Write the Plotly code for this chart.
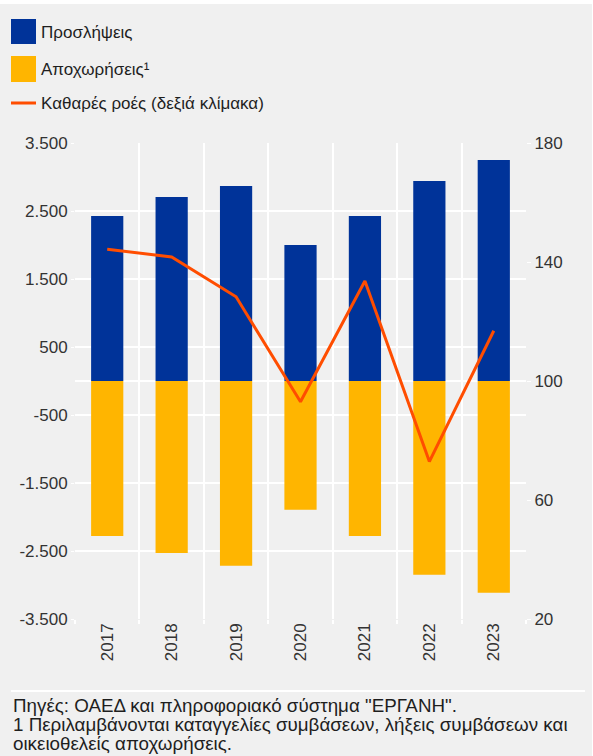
import plotly.graph_objects as go

years = ["2017", "2018", "2019", "2020", "2021", "2022", "2023"]
hires = [2426, 2706, 2868, 2000, 2426, 2941, 3250]
separations = [-2280, -2529, -2716, -1892, -2280, -2848, -3113]
net_flows = [144.3, 141.7, 128.3, 93.0, 133.6, 72.9, 116.9]

left_ticks = [-3500, -2500, -1500, -500, 500, 1500, 2500, 3500]
left_ticktext = ["-3.500", "-2.500", "-1.500", "-500", "500", "1.500", "2.500", "3.500"]
right_ticks = [20, 60, 100, 140, 180]

legend_labels = ["Προσλήψεις", "Αποχωρήσεις¹", "Καθαρές ροές (δεξιά κλίμακα)"]
footnotes = [
    "Πηγές: ΟΑΕΔ και πληροφοριακό σύστημα \"ΕΡΓΑΝΗ\".",
    "1 Περιλαμβάνονται καταγγελίες συμβάσεων, λήξεις συμβάσεων και",
    "οικειοθελείς αποχωρήσεις.",
]

BLUE = "#003399"
YELLOW = "#FFB500"
ORANGE = "#FF4D00"
BG = "#F0F0F0"
TXT = "#1E1E1E"
TICK = "#333333"
FONT = "Liberation Sans, Arial, sans-serif"

W, H = 593, 756
L, R, T, B = 75, 67, 143, 137
PW, PH = W - L - R, H - T - B


def px(x):
    return (x - L) / PW


def py(y):
    return (H - B - y) / PH


fig = go.Figure()
fig.add_trace(go.Bar(x=years, y=hires, name=legend_labels[0], marker_color=BLUE,
                     marker_line_width=0, showlegend=False))
fig.add_trace(go.Bar(x=years, y=separations, name=legend_labels[1], marker_color=YELLOW,
                     marker_line_width=0, showlegend=False))
fig.add_trace(go.Scatter(x=years, y=net_flows, name=legend_labels[2], mode="lines",
                         line=dict(color=ORANGE, width=3), yaxis="y2", showlegend=False))

shapes = []
annotations = []
# custom legend
shapes.append(dict(type="rect", xref="paper", yref="paper", x0=px(11), x1=px(36), y0=py(44), y1=py(19),
                   fillcolor=BLUE, line_width=0))
shapes.append(dict(type="rect", xref="paper", yref="paper", x0=px(11), x1=px(36), y0=py(82), y1=py(56),
                   fillcolor=YELLOW, line_width=0))
shapes.append(dict(type="line", xref="paper", yref="paper", x0=px(11), x1=px(36), y0=py(103), y1=py(103),
                   line=dict(color=ORANGE, width=3)))
for lab, yc in zip(legend_labels, [33, 69, 103]):
    annotations.append(dict(text=lab, xref="paper", yref="paper", x=px(39), y=py(yc),
                            xanchor="left", yanchor="middle", showarrow=False,
                            font=dict(size=17, color=TXT, family=FONT)))
# separator line and footnotes
shapes.append(dict(type="line", xref="paper", yref="paper", x0=px(11), x1=px(585), y0=py(691), y1=py(691),
                   line=dict(color="white", width=2)))
for txt, yc in zip(footnotes, [705, 724, 743]):
    annotations.append(dict(text=txt, xref="paper", yref="paper", x=px(11), y=py(yc),
                            xanchor="left", yanchor="middle", showarrow=False,
                            font=dict(size=18.8, color=TXT, family=FONT)))
# white strips at top and right edge
shapes.append(dict(type="rect", xref="paper", yref="paper", x0=px(-5), x1=px(W + 5), y0=py(4), y1=py(-5),
                   fillcolor="white", line_width=0, layer="above"))
shapes.append(dict(type="rect", xref="paper", yref="paper", x0=px(592), x1=px(W + 5), y0=py(H + 5), y1=py(-5),
                   fillcolor="white", line_width=0, layer="above"))

fig.update_layout(
    width=W, height=H,
    margin=dict(l=L, r=R, t=T, b=B, pad=0),
    paper_bgcolor=BG, plot_bgcolor=BG,
    barmode="relative", bargap=0.5,
    font=dict(family=FONT, size=17, color=TICK),
    shapes=shapes, annotations=annotations,
    xaxis=dict(type="category", tickson="boundaries", showgrid=True, gridcolor="white", gridwidth=1.5,
               ticks="outside", ticklen=4, tickcolor="white", tickwidth=1.5, tickangle=-90,
               showline=False, zeroline=False, tickfont=dict(size=17, color=TICK)),
    yaxis=dict(range=[-3500, 3500], tickvals=left_ticks, ticktext=left_ticktext,
               showgrid=True, gridcolor="white", gridwidth=1.5,
               zeroline=True, zerolinecolor="white", zerolinewidth=1.5,
               ticks="outside", ticklen=3, tickcolor="white", showline=False,
               tickfont=dict(size=17, color=TICK)),
    yaxis2=dict(range=[20, 180], tickvals=right_ticks, overlaying="y", side="right",
                showgrid=False, zeroline=False, ticks="outside", ticklen=4, tickcolor="white",
                showline=False, tickfont=dict(size=17, color=TICK)),
)

fig.write_html("out.html", config={"displayModeBar": False},
               post_script="document.body.style.margin='0';document.body.style.padding='0';")
